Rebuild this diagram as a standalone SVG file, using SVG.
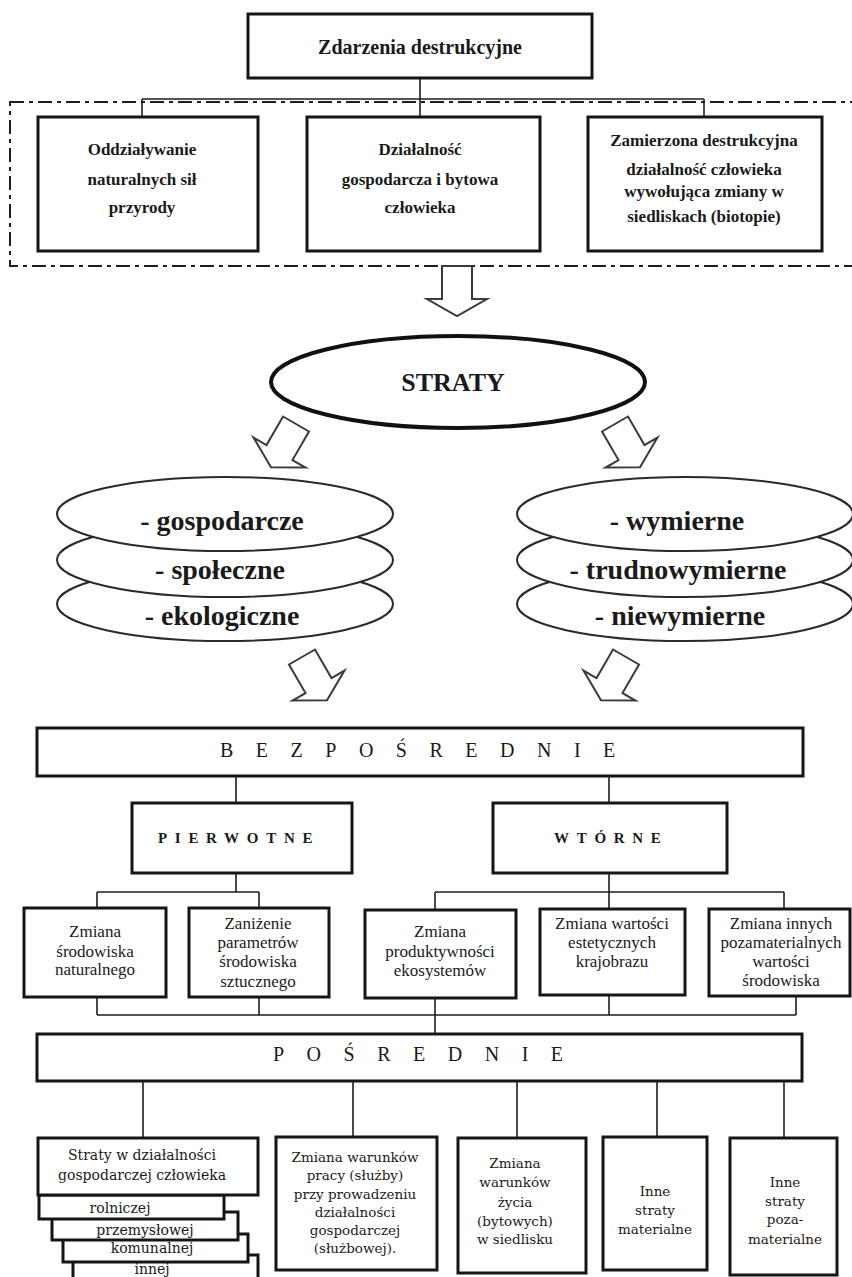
<svg xmlns="http://www.w3.org/2000/svg" width="852" height="1277" viewBox="0 0 852 1277">
  <style>
    .box { fill: #fff; stroke: #151515; stroke-width: 3; }
    .thin { fill: none; stroke: #1e1e1e; stroke-width: 1.6; }
    .frame { fill: none; stroke: #1e1e1e; stroke-width: 2; stroke-dasharray: 14 5 4 5; }
    .oval { fill: #fff; stroke: #2a2a2a; stroke-width: 2; }
    .arrow { fill: #fff; stroke: #3a3a3a; stroke-width: 2; stroke-linejoin: miter; }
    text { fill: #1a1a1a; text-anchor: middle; }
    .hb { font-family: "Liberation Serif", "Times New Roman", serif; font-weight: bold; font-size: 17px; }
    .title { font-family: "Liberation Serif", "Times New Roman", serif; font-weight: bold; font-size: 20px; }
    .big { font-family: "Liberation Serif", "Times New Roman", serif; font-weight: bold; font-size: 28px; }
    .spaced { font-family: "Liberation Serif", "Times New Roman", serif; font-size: 20px; text-anchor: start; letter-spacing: 22.5px; }
    .spacedb { font-family: "Liberation Serif", "Times New Roman", serif; font-weight: bold; font-size: 15px; text-anchor: start; letter-spacing: 7.7px; }
    .mid { font-family: "Liberation Serif", "Times New Roman", serif; font-size: 17px; }
    .low { font-family: "DejaVu Serif", "Liberation Serif", serif; font-size: 13.5px; }
    .lowa { font-family: "DejaVu Serif", "Liberation Serif", serif; font-size: 14px; }
  </style>
  <defs>
    <!-- hollow block arrow, tail centre at origin, pointing down -->
    <path id="hollowArrow" d="M-15,0 L15,0 L15,33 L30,33 L0,50 L-30,33 L-15,33 Z"/>
  </defs>

  <rect width="852" height="1277" fill="#fff"/>

  <!-- connectors -->
  <g id="connectors" class="thin">
    <path d="M420,78 V117 M142,99 H704 M142,99 V117 M704,99 V117"/>
    <path d="M236,776 V803 M609,776 V803"/>
    <path d="M236,873 V892 M97,892 H259 M97,892 V908 M259,892 V908"/>
    <path d="M609,873 V892 M435,892 H784 M435,892 V910 M609,892 V909 M784,892 V909"/>
    <path d="M97,997 V1015 M259,997 V1015 M435,998 V1015 M609,995 V1015 M796,996 V1015 M97,1015 H796 M435,1015 V1034"/>
    <path d="M143,1081 V1138 M353,1081 V1137 M517,1081 V1138 M657,1081 V1137 M784,1081 V1138"/>
  </g>

  <!-- dash-dot frame around the three kinds of events -->
  <rect class="frame" x="10" y="102" width="860" height="164"/>

  <g id="zdarzenia">
    <rect class="box" x="248" y="14" width="344" height="64"/>
    <text class="title" x="420" y="54">Zdarzenia destrukcyjne</text>
  </g>

  <g id="sily-przyrody">
    <rect class="box" x="38" y="117" width="220" height="134"/>
    <text class="hb" x="142" y="155">Oddziaływanie</text>
    <text class="hb" x="142" y="185">naturalnych sił</text>
    <text class="hb" x="142" y="213">przyrody</text>
  </g>

  <g id="dzialalnosc">
    <rect class="box" x="307" y="117" width="233" height="134"/>
    <text class="hb" x="420" y="155">Działalność</text>
    <text class="hb" x="420" y="185">gospodarcza i bytowa</text>
    <text class="hb" x="420" y="213">człowieka</text>
  </g>

  <g id="zamierzona">
    <rect class="box" x="588" y="117" width="234" height="134"/>
    <text class="hb" x="704" y="146">Zamierzona destrukcyjna</text>
    <text class="hb" x="704" y="175">działalność człowieka</text>
    <text class="hb" x="704" y="197">wywołująca zmiany w</text>
    <text class="hb" x="704" y="222">siedliskach (biotopie)</text>
  </g>

  <!-- block arrows -->
  <g id="arrows">
    <use href="#hollowArrow" class="arrow" transform="translate(457,266)"/>
    <use href="#hollowArrow" class="arrow" transform="translate(296,424) rotate(30)"/>
    <use href="#hollowArrow" class="arrow" transform="translate(615,424) rotate(-30)"/>
    <use href="#hollowArrow" class="arrow" transform="translate(302,657) rotate(-30)"/>
    <use href="#hollowArrow" class="arrow" transform="translate(626,657) rotate(30)"/>
  </g>

  <g id="straty">
    <ellipse cx="458" cy="382" rx="187" ry="46" fill="#fff" stroke="#111" stroke-width="4"/>
    <text class="big" x="453" y="391" style="font-size:26px">STRATY</text>
  </g>

  <!-- stacked ovals: bottom one drawn first -->
  <g id="rodzaje">
    <ellipse class="oval" cx="225" cy="604" rx="168" ry="37"/>
    <text class="big" x="222" y="625">- ekologiczne</text>
    <ellipse class="oval" cx="225" cy="560" rx="168" ry="37"/>
    <text class="big" x="220" y="579">- społeczne</text>
    <ellipse class="oval" cx="225" cy="514" rx="168" ry="37"/>
    <text class="big" x="222" y="530">- gospodarcze</text>
  </g>

  <g id="mierzalnosc">
    <ellipse class="oval" cx="685" cy="604" rx="168" ry="37"/>
    <text class="big" x="680" y="625">- niewymierne</text>
    <ellipse class="oval" cx="685" cy="560" rx="168" ry="37"/>
    <text class="big" x="678" y="579">- trudnowymierne</text>
    <ellipse class="oval" cx="685" cy="514" rx="168" ry="37"/>
    <text class="big" x="677" y="530">- wymierne</text>
  </g>

  <g id="bezposrednie">
    <rect class="box" x="37" y="728" width="766" height="48"/>
    <text class="spaced" x="220" y="757">BEZPOŚREDNIE</text>
  </g>

  <g id="pierwotne">
    <rect class="box" x="132" y="803" width="220" height="70"/>
    <text class="spacedb" x="158" y="843">PIERWOTNE</text>
  </g>

  <g id="wtorne">
    <rect class="box" x="493" y="803" width="234" height="70"/>
    <text class="spacedb" x="554" y="843">WTÓRNE</text>
  </g>

  <g id="srodowisko-naturalne">
    <rect class="box" x="24" y="908" width="142" height="89"/>
    <text class="mid" x="95" y="937">Zmiana</text>
    <text class="mid" x="95" y="957">środowiska</text>
    <text class="mid" x="95" y="975">naturalnego</text>
  </g>

  <g id="srodowisko-sztuczne">
    <rect class="box" x="189" y="908" width="140" height="89"/>
    <text class="mid" x="258" y="929">Zaniżenie</text>
    <text class="mid" x="258" y="948">parametrów</text>
    <text class="mid" x="258" y="967">środowiska</text>
    <text class="mid" x="258" y="987">sztucznego</text>
  </g>

  <g id="produktywnosc">
    <rect class="box" x="365" y="910" width="151" height="88"/>
    <text class="mid" x="440" y="937">Zmiana</text>
    <text class="mid" x="440" y="957">produktywności</text>
    <text class="mid" x="440" y="976">ekosystemów</text>
  </g>

  <g id="krajobraz">
    <rect class="box" x="540" y="909" width="145" height="86"/>
    <text class="mid" x="612" y="929">Zmiana wartości</text>
    <text class="mid" x="612" y="948">estetycznych</text>
    <text class="mid" x="612" y="967">krajobrazu</text>
  </g>

  <g id="pozamaterialne-wartosci">
    <rect class="box" x="709" y="909" width="141" height="87"/>
    <text class="mid" x="781" y="929">Zmiana innych</text>
    <text class="mid" x="781" y="948">pozamaterialnych</text>
    <text class="mid" x="781" y="967">wartości</text>
    <text class="mid" x="781" y="986">środowiska</text>
  </g>

  <g id="posrednie">
    <rect class="box" x="37" y="1034" width="765" height="47"/>
    <text class="spaced" x="273" y="1061">POŚREDNIE</text>
  </g>

  <!-- economic losses with stacked sector cards, back to front -->
  <g id="straty-gospodarcze">
    <rect class="box" x="73" y="1255" width="185" height="40"/>
    <text class="lowa" x="152" y="1274">innej</text>
    <rect class="box" x="63" y="1234" width="185" height="28"/>
    <text class="lowa" x="152" y="1253">komunalnej</text>
    <rect class="box" x="52" y="1212" width="186" height="28"/>
    <text class="lowa" x="145" y="1235">przemysłowej</text>
    <rect class="box" x="39" y="1195" width="185" height="24"/>
    <text class="lowa" x="120" y="1213">rolniczej</text>
    <rect class="box" x="38" y="1138" width="220" height="57"/>
    <text class="lowa" x="142" y="1160">Straty w działalności</text>
    <text class="lowa" x="142" y="1180">gospodarczej człowieka</text>
  </g>

  <g id="warunki-pracy">
    <rect class="box" x="276" y="1137" width="161" height="133"/>
    <text class="low" x="355" y="1162">Zmiana warunków</text>
    <text class="low" x="355" y="1180">pracy (służby)</text>
    <text class="low" x="355" y="1199">przy prowadzeniu</text>
    <text class="low" x="355" y="1217">działalności</text>
    <text class="low" x="355" y="1235">gospodarczej</text>
    <text class="low" x="355" y="1253">(służbowej).</text>
  </g>

  <g id="warunki-zycia">
    <rect class="box" x="458" y="1138" width="128" height="135"/>
    <text class="low" x="515" y="1168">Zmiana</text>
    <text class="low" x="515" y="1187">warunków</text>
    <text class="low" x="515" y="1207">życia</text>
    <text class="low" x="515" y="1226">(bytowych)</text>
    <text class="low" x="515" y="1244">w siedlisku</text>
  </g>

  <g id="inne-materialne">
    <rect class="box" x="603" y="1137" width="104" height="133"/>
    <text class="low" x="655" y="1196">Inne</text>
    <text class="low" x="655" y="1215">straty</text>
    <text class="low" x="655" y="1234">materialne</text>
  </g>

  <g id="inne-pozamaterialne">
    <rect class="box" x="730" y="1138" width="107" height="137"/>
    <text class="low" x="785" y="1187">Inne</text>
    <text class="low" x="785" y="1206">straty</text>
    <text class="low" x="785" y="1224">poza-</text>
    <text class="low" x="785" y="1244">materialne</text>
  </g>
</svg>
